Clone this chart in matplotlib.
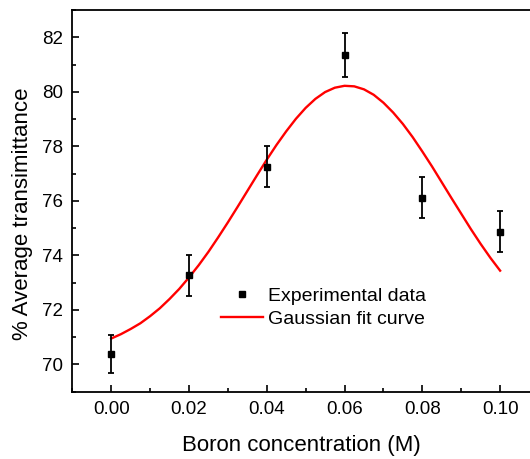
import numpy as np
import matplotlib
matplotlib.use("Agg")
import matplotlib.pyplot as plt
from matplotlib.ticker import MultipleLocator
from matplotlib.lines import Line2D

plt.rcParams['font.family'] = ['Liberation Sans', 'DejaVu Sans']

conc = [0.00, 0.02, 0.04, 0.06, 0.08, 0.10]
trans = [70.39, 73.27, 77.26, 81.35, 76.12, 74.86]
trans_err = [0.70, 0.75, 0.77, 0.82, 0.76, 0.75]

# gaussian fit curve, values read every 0.0025 M
fit_x = [0.0000, 0.0025, 0.0050, 0.0075, 0.0100, 0.0125, 0.0150, 0.0175,
         0.0200, 0.0225, 0.0250, 0.0275, 0.0300, 0.0325, 0.0350, 0.0375,
         0.0400, 0.0425, 0.0450, 0.0475, 0.0500, 0.0525, 0.0550, 0.0575,
         0.0600, 0.0625, 0.0650, 0.0675, 0.0700, 0.0725, 0.0750, 0.0775,
         0.0800, 0.0825, 0.0850, 0.0875, 0.0900, 0.0925, 0.0950, 0.0975,
         0.1000]
fit_y = [70.95, 71.11, 71.30, 71.51, 71.77, 72.06, 72.40, 72.77,
         73.19, 73.64, 74.13, 74.66, 75.21, 75.78, 76.36, 76.94,
         77.51, 78.05, 78.55, 79.01, 79.41, 79.74, 79.99, 80.15,
         80.22, 80.20, 80.09, 79.89, 79.60, 79.24, 78.82, 78.34,
         77.81, 77.26, 76.68, 76.10, 75.53, 74.96, 74.42, 73.91,
         73.44]

fig = plt.figure(figsize=(5.30, 4.59), dpi=100)
ax = fig.add_axes([0.1364, 0.1466, 0.8806, 0.8316])

fit_line, = ax.plot(fit_x, fit_y, color='#ff0000', lw=1.7, zorder=2)
ax.errorbar(conc, trans, yerr=trans_err, fmt='s', color='black', ms=5,
            elinewidth=1.3, capsize=2.5, capthick=1.3, zorder=3)

ax.set_xlim(-0.01, 0.11)
ax.set_ylim(69, 83)
ax.xaxis.set_minor_locator(MultipleLocator(0.01))
ax.yaxis.set_major_locator(MultipleLocator(2))
ax.yaxis.set_minor_locator(MultipleLocator(1))
ax.set_xticks([0.00, 0.02, 0.04, 0.06, 0.08, 0.10])
ax.set_xticklabels(['0.00', '0.02', '0.04', '0.06', '0.08', '0.10'])
ax.tick_params(which='both', direction='in', width=1.2, labelsize=13.5)
ax.tick_params(which='major', length=5)
ax.tick_params(which='minor', length=3)
ax.tick_params(axis='x', pad=7)
ax.tick_params(axis='y', pad=6.5)
for s in ax.spines.values():
    s.set_linewidth(1.3)
ax.spines['right'].set_visible(False)

ax.set_xlabel('Boron concentration (M)', fontsize=16, labelpad=12)
ax.xaxis.label.set_x(0.491)
ax.set_ylabel('% Average transimittance', fontsize=16)
ax.yaxis.set_label_coords(-0.084, 0.467)

pt_handle = Line2D([], [], marker='s', ms=5, color='black', ls='none')
ax.legend([pt_handle, fit_line], ['Experimental data', 'Gaussian fit curve'],
          frameon=False, fontsize=14, loc='upper left',
          bbox_to_anchor=(0.318, 0.274), handlelength=2.15, handletextpad=0.3,
          labelspacing=0.29, borderpad=0, borderaxespad=0)

fig.savefig('out.png', dpi=100)
